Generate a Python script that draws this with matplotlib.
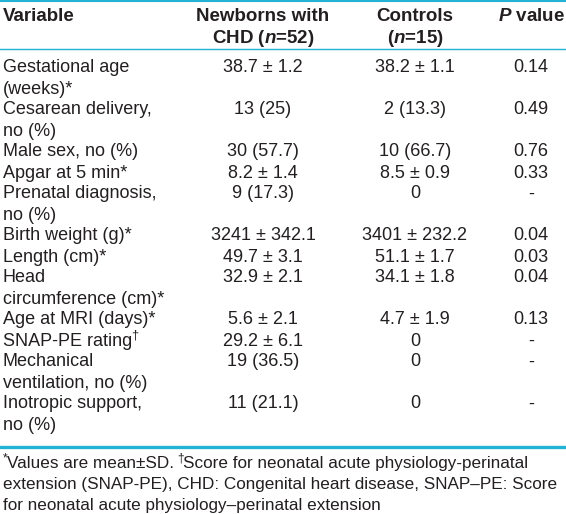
import matplotlib.pyplot as plt

plt.rcParams['font.family'] = 'Liberation Sans'
plt.rcParams['mathtext.fontset'] = 'custom'
plt.rcParams['mathtext.rm'] = 'Liberation Sans:bold'
plt.rcParams['mathtext.it'] = 'Liberation Sans:italic:bold'

variables = [
    "Gestational age\n(weeks)*",
    "Cesarean delivery,\nno (%)",
    "Male sex, no (%)",
    "Apgar at 5 min*",
    "Prenatal diagnosis,\nno (%)",
    "Birth weight (g)*",
    "Length (cm)*",
    "Head\ncircumference (cm)*",
    "Age at MRI (days)*",
    "SNAP-PE rating†",
    "Mechanical\nventilation, no (%)",
    "Inotropic support,\nno (%)",
]
chd = ["38.7 ± 1.2", "13 (25)", "30 (57.7)", "8.2 ± 1.4", "9 (17.3)", "3241 ± 342.1",
       "49.7 ± 3.1", "32.9 ± 2.1", "5.6 ± 2.1", "29.2 ± 6.1", "19 (36.5)", "11 (21.1)"]
controls = ["38.2 ± 1.1", "2 (13.3)", "10 (66.7)", "8.5 ± 0.9", "0", "3401 ± 232.2",
            "51.1 ± 1.7", "34.1 ± 1.8", "4.7 ± 1.9", "0", "0", "0"]
pvals = ["0.14", "0.49", "0.76", "0.33", "-", "0.04", "0.03", "0.04", "0.13", "-", "-", "-"]
footnote = [
    [("*", True), ("Values are mean±SD.", False), ("†", True),
     ("Score for neonatal acute physiology-perinatal", False)],
    [("extension (SNAP-PE), CHD: Congenital heart disease, SNAP–PE: Score", False)],
    [("for neonatal acute physiology–perinatal extension", False)],
]

W, H = 566, 514
TXT = '#231f20'
LINE = '#22b2d6'
FS = 13
HFS = 13.5
FFS = 12.3

fig = plt.figure(figsize=(W / 100, H / 100), dpi=100)
ax = fig.add_axes([0, 0, 1, 1])
ax.set_xlim(0, W)
ax.set_ylim(H, 0)
ax.axis('off')
renderer = fig.canvas.get_renderer()


def runs(x, y, parts, size):
    # text pieces side by side, * and † small and raised
    for s, sup in parts:
        if sup:
            t = ax.text(x, y - size * 0.55, s, fontsize=size * 0.7, va='baseline', color=TXT)
            x += t.get_window_extent(renderer).width - 1
        else:
            t = ax.text(x, y, s, fontsize=size, va='baseline', color=TXT)
            x += t.get_window_extent(renderer).width + (3.5 if s.endswith('.') else -1)


# rules
ax.axhline(1, color=LINE, lw=1.5)
ax.axhline(49, color=LINE, lw=1.0)
ax.axhline(447, color=LINE, lw=2.4)

# header
cx_chd, cx_ctl, cx_p = 263, 415, 531
hy1, hy2 = 21, 43
ax.text(3, hy1, "Variable", fontsize=HFS, fontweight='bold', va='baseline', color=TXT)
ax.text(cx_chd, hy1, "Newborns with", fontsize=HFS, fontweight='bold', va='baseline', ha='center', color=TXT)
ax.text(cx_chd, hy2, "CHD ($n$=52)", fontsize=HFS, fontweight='bold', va='baseline', ha='center', color=TXT)
ax.text(cx_ctl, hy1, "Controls", fontsize=HFS, fontweight='bold', va='baseline', ha='center', color=TXT)
ax.text(cx_ctl, hy2, "($n$=15)", fontsize=HFS, fontweight='bold', va='baseline', ha='center', color=TXT)
ax.text(cx_p, hy1, "$P$ value", fontsize=HFS, fontweight='bold', va='baseline', ha='center', color=TXT)

# body
step = 21.0
y = 72.5
for var, a, b, p in zip(variables, chd, controls, pvals):
    lines = var.split("\n")
    for i, ln in enumerate(lines):
        yl = y + i * step
        if "†" in ln:
            runs(3, yl, [(ln.replace("†", ""), False), ("†", True)], FS)
        else:
            ax.text(3, yl, ln, fontsize=FS, va='baseline', color=TXT)
    ax.text(cx_chd, y, a, fontsize=FS, va='baseline', ha='center', color=TXT)
    ax.text(cx_ctl, y, b, fontsize=FS, va='baseline', ha='center', color=TXT)
    ax.text(cx_p, y, p, fontsize=FS, va='baseline', ha='center', color=TXT)
    y += step * len(lines)

# footnote
for i, parts in enumerate(footnote):
    runs(3, 468 + i * 21, parts, FFS)

fig.savefig("out.png", dpi=100, facecolor='white')
